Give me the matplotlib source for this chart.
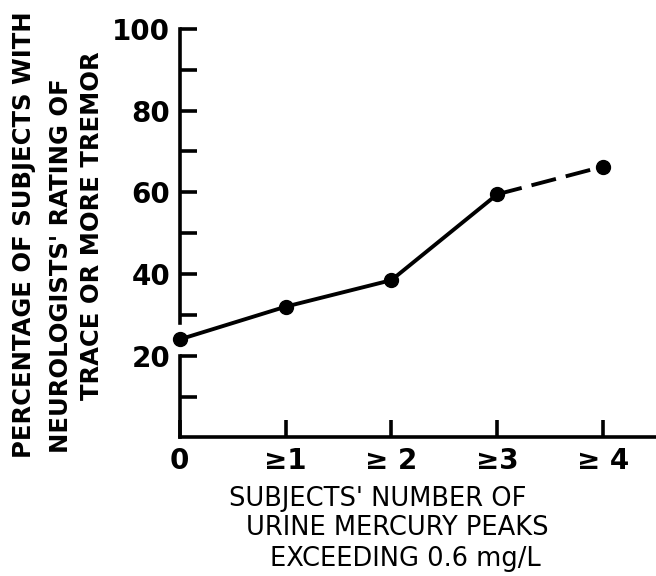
import matplotlib.pyplot as plt
import numpy as np

# Data
peak_counts = [0, 1, 2, 3, 4]
peak_labels = ['0', '\u22651', '\u2265 2', '\u22653', '\u2265 4']
tremor_pct = [24, 32, 38.5, 59.5, 66.3]

ylabel_lines = ['PERCENTAGE OF SUBJECTS WITH',
                "NEUROLOGISTS' RATING OF",
                'TRACE OR MORE TREMOR']
xlabel_lines = ["SUBJECTS' NUMBER OF",
                'URINE MERCURY PEAKS',
                'EXCEEDING 0.6 mg/L']

plt.rcParams['font.family'] = 'DejaVu Sans'

fig = plt.figure(figsize=(6.56, 5.76), dpi=100)
ax = fig.add_axes([0.274, 0.2405, 0.726, 0.7095])

lw = 2.6
# solid part of the curve, then the dashed last step
ax.plot(peak_counts[:4], tremor_pct[:4], color='black', lw=2.8,
        solid_capstyle='round', zorder=2)
ax.plot(peak_counts[3:], tremor_pct[3:], color='black', lw=2.8,
        linestyle=(0, (6.5, 2.6)), zorder=2)
ax.plot(peak_counts, tremor_pct, 'o', color='black', markersize=10,
        clip_on=False, zorder=3)

ax.set_xlim(0, 4.5)
ax.set_ylim(0, 100)

# axes look: only left and bottom, left spine broken near the first point
for side in ['top', 'right']:
    ax.spines[side].set_visible(False)
ax.spines['bottom'].set_linewidth(lw)
ax.spines['left'].set_linewidth(lw)
ax.spines['left'].set_bounds(28, 100)
ax.axvline(0, ymin=0, ymax=0.2, color='black', lw=lw, clip_on=False)

ax.set_xticks(peak_counts)
ax.set_xticklabels(peak_labels)
ax.set_yticks([20, 40, 60, 80, 100])
ax.set_yticks([10, 30, 50, 70, 90], minor=True)

ax.tick_params(axis='both', which='both', direction='in', length=12,
               width=lw, labelsize=20, color='black')
ax.tick_params(axis='y', which='major', pad=7)
ax.tick_params(axis='x', which='major', pad=7)
for lab in ax.get_xticklabels() + ax.get_yticklabels():
    lab.set_fontweight('bold')

# y label, three rotated lines
for i, line in enumerate(ylabel_lines):
    fig.text([24, 61, 92][i] / 656, 1 - [235, 266, 226][i] / 576, line,
             rotation=90, ha='center', va='center', fontsize=17.5,
             fontweight='bold')

# x label, three lines
for i, line in enumerate(xlabel_lines):
    fig.text([378, 397, 405][i] / 656, 1 - [499, 528, 559][i] / 576, line,
             ha='center', va='center', fontsize=18.5)

fig.savefig('out.png', dpi=100)
